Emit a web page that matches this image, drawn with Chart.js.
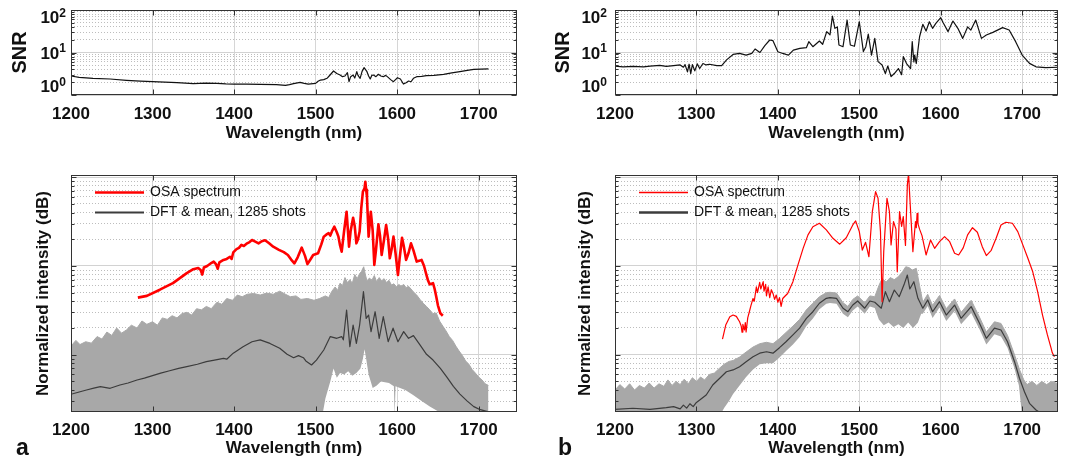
<!DOCTYPE html>
<html>
<head>
<meta charset="utf-8">
<title>SNR and spectra, 1285 shots</title>
<script src="https://cdn.jsdelivr.net/npm/chart.js@4.4.1/dist/chart.umd.min.js"></script>
<style>
  html, body { margin: 0; padding: 0; background: #fff; }
  #fig { position: relative; width: 1072px; height: 462px; overflow: hidden; }
  #fig canvas { position: absolute; }
  .tag { position: absolute; font: bold 23px 'Liberation Sans', Arial, sans-serif; line-height: 23px; color: #111; }
</style>
</head>
<body>
<div id="fig">
  <canvas id="snrA" width="536" height="150" style="left:0;top:0"></canvas>
  <canvas id="snrB" width="536" height="150" style="left:536px;top:0"></canvas>
  <canvas id="specA" width="536" height="312" style="left:0;top:150px"></canvas>
  <canvas id="specB" width="536" height="312" style="left:536px;top:150px"></canvas>
  <div class="tag" style="left:16px;top:436px">a</div>
  <div class="tag" style="left:558px;top:436px">b</div>
</div>
<script>
// axis ticks
const xTicks = [1200, 1300, 1400, 1500, 1600, 1700];
const snrTickValues = [1, 10, 100];
const snrTickBase = '10';
const snrTickExp = ['0', '1', '2'];
const legendLabels = ['OSA spectrum', 'DFT & mean, 1285 shots'];

// SNR, panel a  [wavelength nm, SNR]
const snrA = [[1200,2.8],[1210,2.6],[1227,2.47],[1248,2.38],[1268,2.22],[1285,2.12],[1300,2.06],[1315,2.0],[1330,1.95],[1350,1.85],[1365,1.9],[1379,1.88],[1390,1.83],[1400,1.81],[1415,1.8],[1432,1.78],[1452,1.75],[1463,1.69],[1468,1.75],[1473,1.85],[1481,1.99],[1486,1.88],[1491,1.81],[1500,1.88],[1503,2.1],[1506,2.25],[1510,2.3],[1514,2.47],[1518,3.0],[1522,3.67],[1526,3.2],[1530,2.95],[1533,2.7],[1536,2.8],[1539,3.35],[1541,2.06],[1543,2.7],[1546,2.95],[1548,2.5],[1550.5,3.54],[1552,2.9],[1554.6,2.47],[1557,3.6],[1559.5,4.4],[1561,4.0],[1563,3.54],[1565,2.8],[1567,2.38],[1569,2.9],[1571,2.95],[1574,2.7],[1577,3.07],[1580,2.8],[1583,2.7],[1586,2.9],[1589,2.6],[1592,2.3],[1595.5,2.06],[1598,2.3],[1600.4,2.55],[1604,2.38],[1607.7,1.81],[1611,1.95],[1614,2.13],[1617,2.05],[1620,2.47],[1624,2.7],[1630,2.75],[1636,2.85],[1645,2.9],[1657,3.07],[1667,3.3],[1677,3.54],[1686,3.8],[1694,4.0],[1703,4.05],[1712,4.1]];

// SNR, panel b
const snrB = [[1200,4.8],[1210,4.6],[1222,4.7],[1235,4.6],[1243,4.8],[1255,5.0],[1263,4.7],[1272,4.9],[1280,5.1],[1284,4.5],[1286,5.2],[1289,3.5],[1291,5.3],[1293,3.2],[1295,5.2],[1298,3.7],[1301,5.4],[1304,4.2],[1308,5.5],[1312,5.1],[1316,5.3],[1325,4.9],[1331,4.9],[1337,6.7],[1345,9.0],[1353,9.5],[1361,8.7],[1368,9.5],[1372,12.1],[1378,10.0],[1384,14.5],[1390,19.7],[1394,19.0],[1400,10.4],[1406,9.5],[1410,9.0],[1413,8.7],[1419,11.4],[1427,12.5],[1435,13.0],[1438,18.0],[1443,13.7],[1451,18.6],[1455,15.6],[1460,31],[1464,26],[1467,72],[1470,37],[1473,40],[1475,15],[1480,13.7],[1485,58],[1489,15],[1494,14],[1500,53],[1505,10.5],[1508,13.7],[1511,27],[1515,8.7],[1519,21.5],[1523,6.1],[1528,5.1],[1532,3.2],[1535,4.8],[1539,2.7],[1543,3.2],[1548,4.2],[1552,3.0],[1554,8.0],[1558,5.5],[1563,4.2],[1565,18],[1567,6],[1568,8.7],[1570,5.5],[1574,23.5],[1578,46],[1582,32],[1586,53],[1590,37],[1594,48.5],[1600,66],[1603,50],[1609,31],[1615,55],[1621,37],[1627,21.5],[1633,40],[1637,33.7],[1643,58],[1650,21.5],[1656,25.8],[1664,29.8],[1676,38.5],[1684,33.8],[1692,18],[1700,8.7],[1709,5.55],[1717,4.6],[1729,4.4],[1744,4.5]];

// Panel a spectra (relative intensity, log)
const osaA = [[1282,4.4],[1293,4.6],[1309,5.4],[1325,6.4],[1342,8.3],[1350,9.2],[1356,9.5],[1359,9.0],[1361,8.0],[1363,9.6],[1367,10],[1372,10.8],[1375,11.2],[1378,10.4],[1380,9.3],[1382,11.0],[1387,11.7],[1391,12.0],[1395,12.7],[1397,12.0],[1399,14.2],[1403,15.5],[1406,16.0],[1409,17.3],[1412,16.8],[1416,18.0],[1419,18.6],[1422,19.6],[1426,18.8],[1430,18.0],[1434,19.0],[1438,19.5],[1443,18.0],[1448,16.5],[1455,15.2],[1461,14.3],[1466,13.3],[1470,11.8],[1474,10.7],[1478,12.5],[1483,16.1],[1487,13.0],[1490,10.5],[1494,12.0],[1497,13.3],[1503,13.9],[1507,17.5],[1510,21.4],[1513,22.5],[1516,23.4],[1518,22.0],[1520,24.5],[1523,27.7],[1526,24.0],[1528,21.4],[1530,17.0],[1532,14.5],[1535,25],[1538,40.9],[1541,16.5],[1543,25],[1546,35],[1548,28],[1550,18],[1552,20],[1554,24.4],[1556,45],[1558,68.8],[1560,75],[1561,89],[1562,72],[1563,60],[1565,21.4],[1567.7,40.9],[1570,25],[1572,10.3],[1574,15],[1577,29.5],[1579,22],[1581,13.3],[1584,20],[1586.5,29],[1589,20],[1591,12.2],[1593,15],[1595.5,21.4],[1598,14],[1601,7.9],[1603,12],[1606,20.8],[1608,17],[1611,11.7],[1614,14],[1617,18],[1620,15],[1624,11.2],[1628,11.5],[1630,11.7],[1633,10],[1636,7.9],[1638,6.8],[1640,6.2],[1644,6.4],[1646,5.5],[1648,4.5],[1650,3.6],[1653,2.93],[1656,2.75]];
const meanA = [[1200,0.358],[1210,0.38],[1219,0.40],[1228,0.42],[1236,0.436],[1248,0.418],[1260,0.455],[1270,0.48],[1281,0.519],[1290,0.545],[1300,0.58],[1310,0.62],[1321,0.66],[1332,0.70],[1342,0.733],[1355,0.78],[1366,0.834],[1376,0.87],[1387,0.91],[1391,0.89],[1399,1.04],[1411,1.23],[1422,1.4],[1432,1.47],[1444,1.34],[1456,1.18],[1465,1.01],[1473,0.925],[1479,0.975],[1485,0.925],[1488,0.85],[1495,0.766],[1501,0.87],[1510,1.13],[1518,1.6],[1526,1.53],[1532,1.6],[1534,1.47],[1538,3.19],[1542,1.23],[1546,2.16],[1550,1.34],[1554,2.16],[1558.7,5.13],[1562,2.57],[1565,2.8],[1568,1.82],[1573,3.05],[1578,1.53],[1583,2.68],[1589,1.4],[1595,1.99],[1601,1.4],[1608,1.82],[1614,1.53],[1620,1.64],[1628,1.29],[1636,1.01],[1644,0.87],[1653,0.7],[1661,0.56],[1669,0.44],[1677,0.36],[1686,0.3],[1694,0.26],[1702,0.24],[1712,0.227]];
const bandHiA = [[1200,1.25],[1206,1.45],[1211,1.3],[1218,1.4],[1225,1.35],[1232,1.6],[1238,1.5],[1244,1.8],[1250,1.65],[1256,2.0],[1262,1.75],[1268,1.9],[1274,2.15],[1281,2.0],[1287,2.4],[1293,2.2],[1300,2.35],[1306,2.15],[1312,2.6],[1318,2.5],[1324,2.75],[1330,2.6],[1336,2.9],[1342,3.0],[1348,2.8],[1354,3.3],[1360,3.2],[1366,3.5],[1372,3.3],[1379,3.9],[1385,3.7],[1391,4.3],[1398,4.1],[1404,4.7],[1410,4.5],[1416,4.8],[1424,4.9],[1432,4.7],[1440,4.95],[1448,4.8],[1456,5.2],[1463,4.8],[1469,4.5],[1476,4.6],[1482,4.2],[1490,4.3],[1498,4.1],[1505,4.3],[1512,4.6],[1516,4.4],[1520,5.2],[1524,5.8],[1527,5.3],[1530,6.4],[1533,6.0],[1536,7.4],[1539,6.5],[1542,7.0],[1545,6.4],[1548,8.0],[1551,7.2],[1554,8.2],[1556,8.6],[1559,9.8],[1561,8.0],[1563,6.8],[1566,7.3],[1569,6.9],[1572,7.8],[1575,6.6],[1578,7.4],[1581,6.8],[1584,7.2],[1587,6.5],[1590,6.9],[1593,6.1],[1596,6.3],[1599,5.8],[1602,6.2],[1605,5.9],[1608,6.2],[1611,5.7],[1614,5.9],[1617,5.5],[1620,5.1],[1624,4.7],[1628,4.2],[1632,3.8],[1636,3.5],[1640,3.2],[1644,2.9],[1648,2.95],[1652,2.4],[1656,2.1],[1660,1.85],[1664,1.6],[1668,1.45],[1672,1.25],[1676,1.1],[1680,0.98],[1684,0.85],[1688,0.78],[1692,0.68],[1696,0.62],[1700,0.56],[1704,0.52],[1708,0.47],[1712,0.45]];
const bandLoA = [[1200,0.2],[1508,0.2],[1512,0.32],[1518,0.5],[1522,0.7],[1526,0.55],[1530,0.62],[1535,0.6],[1540,0.65],[1545,0.58],[1550,0.62],[1555,0.7],[1558,0.9],[1560,1.15],[1562,0.9],[1565,0.6],[1570,0.42],[1575,0.45],[1580,0.5],[1590,0.48],[1596,0.44],[1597,0.2],[1598,0.44],[1610,0.4],[1620,0.35],[1630,0.3],[1640,0.26],[1650,0.23],[1656,0.2],[1712,0.2]];

// Panel b spectra
const osaB = [[1332,1.5],[1336,2.16],[1341,2.68],[1345,2.8],[1349,2.7],[1353,2.35],[1355,2.1],[1356,1.8],[1357,2.2],[1359,1.9],[1360,2.3],[1361,1.8],[1363,2.6],[1365,3.05],[1367,3.6],[1369.5,4.3],[1371,4.0],[1373.6,5.8],[1375,5.0],[1377.7,6.55],[1379,5.5],[1382,6.65],[1383,5.2],[1385,6.2],[1386,4.6],[1388,5.8],[1390,4.4],[1392,5.4],[1394,4.9],[1396,4.2],[1398,4.7],[1400,3.9],[1402,4.4],[1404,3.5],[1406,4.3],[1408,4.5],[1412,4.9],[1418.5,6.65],[1424.7,10.3],[1431,15.8],[1437,22.4],[1443,27.7],[1451,30.3],[1459.5,25.5],[1467.6,20.5],[1476,17.6],[1484,20.8],[1492,29],[1495.5,32.2],[1500,24.4],[1503.7,15.1],[1507.7,18.5],[1511.8,12.7],[1516,40.9],[1520,68.8],[1523,58],[1526,24.4],[1528,3.96],[1530,14.5],[1534,58],[1537,40.9],[1539,17.3],[1542,31.6],[1545,26],[1546.6,8.6],[1549.4,40.9],[1552,28],[1554,36],[1556.7,17],[1559,82],[1560.5,110],[1562,60],[1565.8,14.5],[1569,31.6],[1570,27],[1571,39.3],[1572,30],[1574,26],[1577,22],[1582,13.3],[1587.5,19.6],[1592.5,15.8],[1598.5,18.8],[1604.7,21.4],[1611,18.8],[1617,13.9],[1622,13.3],[1627.6,16],[1633,22.4],[1639,27],[1645,24],[1651,16.5],[1656,13.1],[1662,15],[1668,20.5],[1674,29],[1680,31.1],[1688,30.3],[1694.6,24.4],[1700.8,17.3],[1707,12.2],[1713,8.6],[1719,5.13],[1725,2.8],[1731,1.67],[1735.6,1.18],[1737,1.05],[1739.6,0.95]];
const meanB = [[1200,0.242],[1222,0.249],[1243,0.242],[1263,0.253],[1272,0.26],[1280,0.245],[1284,0.27],[1288,0.25],[1292,0.28],[1296,0.26],[1300,0.29],[1304,0.308],[1312,0.351],[1320,0.455],[1328.6,0.542],[1336.8,0.643],[1345,0.673],[1353,0.733],[1361,0.834],[1369.5,0.95],[1377.7,1.04],[1386,1.08],[1394,1.04],[1402,1.2],[1410,1.4],[1418.5,1.67],[1426.7,1.99],[1435,2.57],[1443,3.05],[1451,3.8],[1459.5,4.32],[1464,4.39],[1472,4.32],[1480,3.34],[1486,3.05],[1492,3.63],[1498,4.03],[1506.6,3.34],[1513,4.03],[1519,3.9],[1527,3.34],[1532,5.13],[1537,3.96],[1543,5.36],[1549,4.5],[1555.6,6.4],[1559,7.9],[1562,5.5],[1567,6.65],[1572,4.32],[1578,3.34],[1584,4.14],[1590,3.05],[1598.5,3.96],[1606.8,2.8],[1617,3.63],[1625,2.57],[1637.4,3.48],[1647.6,2.26],[1656,1.53],[1666,1.99],[1674,1.9],[1682,1.4],[1690.6,0.834],[1696.7,0.542],[1702.8,0.383],[1709,0.283],[1717,0.238],[1723,0.22]];
const bandHiB = [[1200,0.40],[1206,0.46],[1212,0.41],[1218,0.47],[1224,0.40],[1230,0.45],[1236,0.42],[1242,0.48],[1248,0.42],[1254,0.47],[1260,0.44],[1265,0.52],[1270,0.45],[1275,0.50],[1280,0.46],[1285,0.53],[1290,0.47],[1295,0.55],[1300,0.50],[1305,0.56],[1310,0.52],[1316,0.60],[1322,0.62],[1328,0.70],[1334,0.78],[1340,0.84],[1345,0.86],[1353,0.94],[1361,1.07],[1369.5,1.22],[1377.7,1.33],[1386,1.38],[1394,1.33],[1402,1.52],[1410,1.78],[1418.5,2.1],[1426.7,2.5],[1435,3.2],[1443,3.8],[1451,4.5],[1459.5,5.0],[1464,5.05],[1472,4.95],[1480,3.85],[1486,3.5],[1492,4.2],[1498,4.6],[1506.6,3.85],[1513,4.6],[1519,4.5],[1524,6.0],[1528,7.2],[1533,6.6],[1538,7.4],[1543,7.0],[1548,7.6],[1553,8.6],[1557,9.8],[1561,9.6],[1565,9.0],[1570,9.4],[1574,6.0],[1578,3.9],[1584,4.8],[1590,3.6],[1598.5,4.65],[1606.8,3.3],[1617,4.25],[1625,3.0],[1637.4,4.1],[1647.6,2.65],[1656,1.8],[1666,2.35],[1674,2.25],[1682,1.65],[1690.6,1.0],[1696.7,0.68],[1702,0.52],[1706,0.46],[1712,0.5],[1718,0.45],[1724,0.5],[1730,0.46],[1736,0.5],[1744,0.47]];
const bandLoB = [[1200,0.2],[1328,0.2],[1334,0.25],[1340,0.3],[1345,0.36],[1353,0.45],[1361,0.56],[1369.5,0.68],[1377.7,0.78],[1386,0.8],[1394,0.8],[1402,0.93],[1410,1.1],[1418.5,1.3],[1426.7,1.58],[1435,2.1],[1443,2.55],[1451,3.25],[1459.5,3.75],[1464,3.82],[1472,3.75],[1480,2.9],[1486,2.65],[1492,3.15],[1498,3.5],[1506.6,2.9],[1513,3.5],[1519,3.35],[1524,2.5],[1530,2.15],[1536,2.3],[1542,2.05],[1548,2.2],[1554,2.0],[1560,2.3],[1566,2.0],[1572,2.3],[1576,2.9],[1578,2.9],[1584,3.55],[1590,2.6],[1598.5,3.4],[1606.8,2.4],[1617,3.1],[1625,2.2],[1637.4,2.95],[1647.6,1.93],[1656,1.3],[1666,1.7],[1674,1.6],[1682,1.2],[1690.6,0.7],[1696,0.45],[1700,0.2],[1744,0.2]];

Chart.defaults.font.family = "'Liberation Sans', Arial, Helvetica, sans-serif";
Chart.defaults.color = '#111';

const FONT = "'Liberation Sans', Arial, sans-serif";
const pts = arr => arr.map(p => ({ x: p[0], y: p[1] }));
const isDecade = v => Math.abs(Math.log10(v) - Math.round(Math.log10(v))) < 1e-6;

// 1..9 x 10^n positions for the log grid
function logGrid(min, max) {
  const out = [];
  for (let e = Math.floor(Math.log10(min)); e <= Math.ceil(Math.log10(max)); e++) {
    for (let m = 1; m < 10; m++) {
      const v = m * Math.pow(10, e);
      if (v >= min - 1e-9 && v <= max + 1e-9) out.push(v);
    }
  }
  return out;
}

// box with inward ticks, like the original figure
const boxFrame = {
  id: 'boxFrame',
  afterDraw(chart) {
    const { ctx, chartArea: a, scales } = chart;
    const L = Math.round(a.left) + 0.5, R = Math.round(a.right) - 0.5;
    const T = Math.round(a.top) + 0.5, B = Math.round(a.bottom) - 0.5;
    ctx.save();
    ctx.strokeStyle = '#333';
    ctx.lineWidth = 1;
    ctx.beginPath();
    scales.x.ticks.forEach(t => {
      const px = Math.round(scales.x.getPixelForValue(t.value)) + 0.5;
      ctx.moveTo(px, B); ctx.lineTo(px, B - 5);
      ctx.moveTo(px, T); ctx.lineTo(px, T + 5);
    });
    scales.y.ticks.forEach(t => {
      const py = Math.round(scales.y.getPixelForValue(t.value)) + 0.5;
      const len = isDecade(t.value) ? 5 : 3;
      ctx.moveTo(L, py); ctx.lineTo(L + len, py);
      ctx.moveTo(R, py); ctx.lineTo(R - len, py);
    });
    ctx.stroke();
    ctx.strokeRect(L, T, R - L, B - T);
    ctx.restore();
  }
};

// "10" with a raised exponent at each decade of the SNR axis
const decadeLabels = {
  id: 'decadeLabels',
  afterDraw(chart, args, opts) {
    if (!opts.values) return;
    const { ctx, chartArea: a, scales: { y } } = chart;
    ctx.save();
    ctx.fillStyle = '#111';
    ctx.textBaseline = 'middle';
    opts.values.forEach((v, i) => {
      const py = Math.min(Math.max(y.getPixelForValue(v) + 1.5, a.top + 8.5), a.bottom - 7.5);
      const right = a.left - opts.gap;
      ctx.font = 'bold 12px ' + FONT;
      const ew = ctx.measureText(opts.exps[i]).width;
      ctx.textAlign = 'left';
      ctx.fillText(opts.exps[i], right - ew, py - 5);
      ctx.font = 'bold 17px ' + FONT;
      ctx.textAlign = 'right';
      ctx.fillText(opts.base, right - ew, py);
    });
    ctx.restore();
  }
};

// legend drawn inside the plot area, top left
const insideLegend = {
  id: 'insideLegend',
  afterDatasetsDraw(chart) {
    const { ctx, chartArea: a } = chart;
    const items = chart.data.datasets.filter(d => d.legendWidth);
    ctx.save();
    ctx.font = '14px ' + FONT;
    ctx.textBaseline = 'middle';
    ctx.fillStyle = '#111';
    items.forEach((d, i) => {
      const y = Math.round(a.top + 17 + i * 20) + 0.5;
      const x = a.left + 24;
      ctx.strokeStyle = d.borderColor;
      ctx.lineWidth = d.legendWidth;
      ctx.beginPath(); ctx.moveTo(x, y); ctx.lineTo(x + 49, y); ctx.stroke();
      ctx.fillText(d.label, x + 55, y);
    });
    ctx.restore();
  }
};

function makeChart(id, cfg) {
  return new Chart(document.getElementById(id), {
    type: 'line',
    data: { datasets: cfg.datasets },
    options: {
      responsive: false,
      animation: false,
      devicePixelRatio: 1,
      layout: { padding: { top: cfg.padTop, right: cfg.padRight, left: 0, bottom: 0 } },
      plugins: {
        legend: { display: false },
        tooltip: { enabled: false },
        decadeLabels: cfg.decades || {}
      },
      elements: { point: { radius: 0 }, line: { tension: 0, borderJoinStyle: 'round' } },
      scales: {
        x: {
          type: 'linear', min: 1200, max: cfg.xMax,
          afterBuildTicks: s => { s.ticks = xTicks.map(v => ({ value: v })); },
          afterFit: s => { s.height = cfg.xAxisH; },
          ticks: { autoSkip: false, maxRotation: 0, padding: cfg.xTickPad, font: { size: 17, weight: 'bold', lineHeight: 1.2 }, color: '#111', callback: v => String(v) },
          grid: { color: '#d6d6d6', lineWidth: 1, drawTicks: false },
          border: { display: false },
          title: { display: true, text: 'Wavelength (nm)', font: { size: 17, weight: 'bold' }, color: '#111', padding: { top: 0, bottom: cfg.xTitlePad } }
        },
        y: {
          type: 'logarithmic', min: cfg.yMin, max: cfg.yMax,
          afterBuildTicks: s => { s.ticks = logGrid(cfg.yMin, cfg.yMax).map(v => ({ value: v })); },
          afterFit: s => { s.width = cfg.yAxisW; },
          ticks: { autoSkip: false, font: { size: 12, lineHeight: 1 }, callback: () => '' },
          grid: { color: c => (c.tick && isDecade(c.tick.value)) ? '#d2d2d2' : '#bdbdbd', lineWidth: 1, drawTicks: false },
          border: { display: false, dash: c => (c.tick && isDecade(c.tick.value)) ? [] : [1, 2] },
          title: { display: true, text: cfg.yTitle, font: { size: cfg.yTitleSize, weight: 'bold' }, color: '#111', padding: { top: cfg.yTitlePad, bottom: 0 } }
        }
      }
    },
    plugins: [boxFrame, insideLegend, decadeLabels]
  });
}

const BAND = '#a8a8a8';

makeChart('snrA', {
  padTop: 10, padRight: 19, xMax: 1747, xAxisH: 55, xTickPad: 9, xTitlePad: 6,
  yMin: 1, yMax: 100, yAxisW: 71,
  decades: { values: snrTickValues, exps: snrTickExp, base: snrTickBase, gap: 5 },
  yTitle: 'SNR', yTitleSize: 20, yTitlePad: 8,
  datasets: [{ data: pts(snrA), borderColor: '#111', borderWidth: 1.2, fill: false }]
});

makeChart('snrB', {
  padTop: 10, padRight: 14, xMax: 1744, xAxisH: 55, xTickPad: 9, xTitlePad: 6,
  yMin: 1, yMax: 100, yAxisW: 79,
  decades: { values: snrTickValues, exps: snrTickExp, base: snrTickBase, gap: 8 },
  yTitle: 'SNR', yTitleSize: 20, yTitlePad: 15,
  datasets: [{ data: pts(snrB), borderColor: '#111', borderWidth: 1.2, fill: false }]
});

makeChart('specA', {
  padTop: 25, padRight: 19, xMax: 1747, xAxisH: 50, xTickPad: 8, xTitlePad: 3,
  yMin: 0.226, yMax: 106, yAxisW: 71,
  yTitle: 'Normalized intensity (dB)', yTitleSize: 17, yTitlePad: 33,
  datasets: [
    { label: legendLabels[0], data: pts(osaA), borderColor: '#ff0000', borderWidth: 2.6, legendWidth: 2.6, fill: false },
    { label: legendLabels[1], data: pts(meanA), borderColor: '#3c3c3c', borderWidth: 1.2, legendWidth: 2, fill: false },
    { data: pts(bandHiA), borderColor: BAND, backgroundColor: BAND, borderWidth: 1, fill: '+1' },
    { data: pts(bandLoA), borderColor: BAND, borderWidth: 0, fill: false }
  ]
});

makeChart('specB', {
  padTop: 25, padRight: 14, xMax: 1744, xAxisH: 50, xTickPad: 8, xTitlePad: 3,
  yMin: 0.226, yMax: 106, yAxisW: 79,
  yTitle: 'Normalized intensity (dB)', yTitleSize: 17, yTitlePad: 39,
  datasets: [
    { label: legendLabels[0], data: pts(osaB), borderColor: '#ff0000', borderWidth: 1.2, legendWidth: 1.4, fill: false },
    { label: legendLabels[1], data: pts(meanB), borderColor: '#3c3c3c', borderWidth: 1.2, legendWidth: 2.6, fill: false },
    { data: pts(bandHiB), borderColor: BAND, backgroundColor: BAND, borderWidth: 1, fill: '+1' },
    { data: pts(bandLoB), borderColor: BAND, borderWidth: 0, fill: false }
  ]
});
</script>
</body>
</html>
